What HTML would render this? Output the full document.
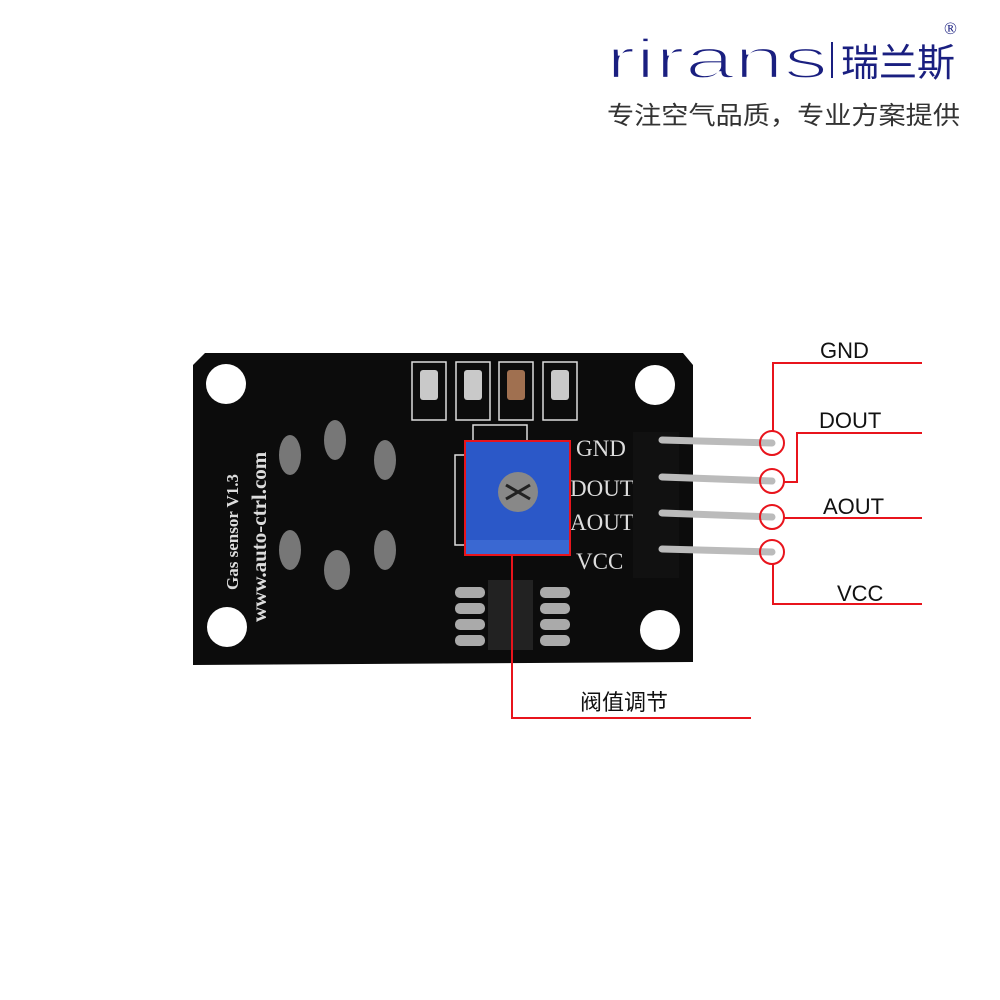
<!DOCTYPE html>
<html><head><meta charset="utf-8"><style>
html,body{margin:0;padding:0;background:#fff;}
svg{display:block}
</style></head><body>
<svg width="1000" height="1000" viewBox="0 0 1000 1000" xmlns="http://www.w3.org/2000/svg">
<rect width="1000" height="1000" fill="#fff"/>
<!-- logo -->
<text x="606" y="78" font-family="Liberation Sans, sans-serif" font-size="56" fill="#1a1f80" stroke="#fff" stroke-width="2.2" textLength="222" lengthAdjust="spacingAndGlyphs">rirans</text>
<rect x="831" y="42" width="2" height="36" fill="#1a1f80"/>
<text x="841" y="76" font-family="Liberation Sans, 'Noto Sans CJK SC', sans-serif" font-size="38" fill="#1a1f80">瑞兰斯</text>
<text x="944" y="34" font-family="Liberation Serif, serif" font-size="17" fill="#1a1f80">®</text>
<text x="607" y="124" font-family="Liberation Sans, 'Noto Sans CJK SC', sans-serif" font-size="25" fill="#333" textLength="353" lengthAdjust="spacingAndGlyphs">专注空气品质，专业方案提供</text>

<!-- board -->
<path d="M205 353 L683 353 L693 365 L693 662 L193 665 L193 365 Z" fill="#0c0c0c"/>
<circle cx="226" cy="384" r="20" fill="#fff"/>
<circle cx="655" cy="385" r="20" fill="#fff"/>
<circle cx="227" cy="627" r="20" fill="#fff"/>
<circle cx="660" cy="630" r="20" fill="#fff"/>
<g fill="none" stroke="#ddd" stroke-width="1.5">
<rect x="412" y="362" width="34" height="58"/>
<rect x="456" y="362" width="34" height="58"/>
<rect x="499" y="362" width="34" height="58"/>
<rect x="543" y="362" width="34" height="58"/>
<rect x="473" y="425" width="54" height="16"/>
<rect x="455" y="455" width="12" height="90"/>
</g>
<g fill="#c9c9c9">
<rect x="420" y="370" width="18" height="30" rx="3"/>
<rect x="464" y="370" width="18" height="30" rx="3"/>
<rect x="507" y="370" width="18" height="30" rx="3" fill="#a07050"/>
<rect x="551" y="370" width="18" height="30" rx="3"/>
</g>
<g fill="#777">
<ellipse cx="290" cy="455" rx="11" ry="20"/><ellipse cx="335" cy="440" rx="11" ry="20"/><ellipse cx="385" cy="460" rx="11" ry="20"/>
<ellipse cx="290" cy="550" rx="11" ry="20"/><ellipse cx="337" cy="570" rx="13" ry="20"/><ellipse cx="385" cy="550" rx="11" ry="20"/>
</g>
<text transform="translate(238,590) rotate(-90)" font-family="Liberation Serif, serif" font-size="17" fill="#ddd" font-weight="bold">Gas sensor  V1.3</text>
<text transform="translate(266,622) rotate(-90)" font-family="Liberation Serif, serif" font-size="21" fill="#ddd" font-weight="bold">www.auto-ctrl.com</text>
<rect x="488" y="580" width="45" height="70" fill="#222"/>
<g fill="#aaa">
<rect x="455" y="587" width="30" height="11" rx="5"/><rect x="455" y="603" width="30" height="11" rx="5"/><rect x="455" y="619" width="30" height="11" rx="5"/><rect x="455" y="635" width="30" height="11" rx="5"/>
<rect x="540" y="587" width="30" height="11" rx="5"/><rect x="540" y="603" width="30" height="11" rx="5"/><rect x="540" y="619" width="30" height="11" rx="5"/><rect x="540" y="635" width="30" height="11" rx="5"/>
</g>
<rect x="466" y="442" width="104" height="112" fill="#2b58c8"/>
<rect x="466" y="540" width="104" height="14" fill="#3a68d2"/>
<circle cx="518" cy="492" r="20" fill="#888"/>
<path d="M506 485 L530 499 M530 485 L506 499" stroke="#222" stroke-width="3"/>
<g font-family="Liberation Serif, serif" font-size="23" fill="#ddd">
<text x="576" y="456">GND</text><text x="570" y="496">DOUT</text><text x="570" y="530">AOUT</text><text x="576" y="569">VCC</text>
</g>
<rect x="633" y="432" width="46" height="146" fill="#111"/>
<g stroke="#bbb" stroke-width="7" stroke-linecap="round">
<line x1="662" y1="440" x2="772" y2="443"/>
<line x1="662" y1="477" x2="772" y2="481"/>
<line x1="662" y1="513" x2="772" y2="517"/>
<line x1="662" y1="549" x2="772" y2="552"/>
</g>
<g fill="none" stroke="#e8141c" stroke-width="2">
<rect x="465" y="441" width="105" height="114"/>
<polyline points="512,555 512,718 751,718"/>
<circle cx="772" cy="443" r="12"/><circle cx="772" cy="481" r="12"/><circle cx="772" cy="517" r="12"/><circle cx="772" cy="552" r="12"/>
<polyline points="773,431 773,363 922,363"/>
<polyline points="784,482 797,482 797,433 922,433"/>
<polyline points="784,518 922,518"/>
<polyline points="773,564 773,604 922,604"/>
</g>
<g font-family="Liberation Sans, 'Noto Sans CJK SC', sans-serif" font-size="22" fill="#111">
<text x="820" y="358">GND</text>
<text x="819" y="428">DOUT</text>
<text x="823" y="514">AOUT</text>
<text x="837" y="601">VCC</text>
<text x="580" y="710">阀值调节</text>
</g>
</svg>
</body></html>
